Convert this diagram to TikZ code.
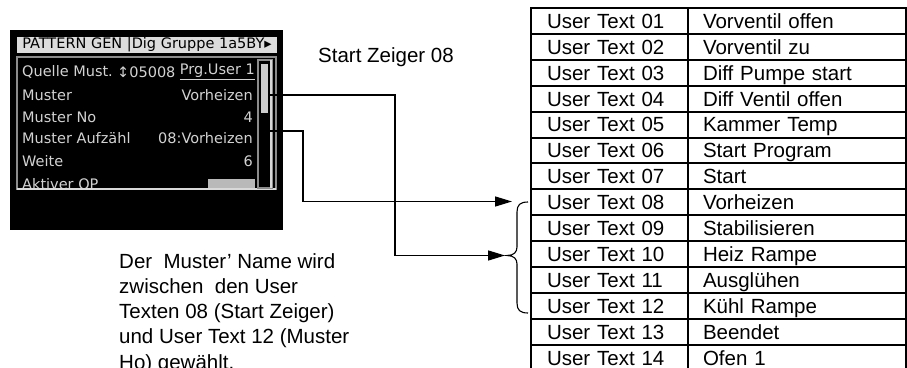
\documentclass[tikz,border=0pt]{standalone}
\usepackage{fontspec}
\setmainfont{Liberation Sans}
\newfontfamily\lcdfont{DejaVu Sans}
\usetikzlibrary{arrows.meta}
\definecolor{lcdtext}{HTML}{D2D2D2}
\definecolor{lcdbar}{HTML}{DCDCDC}
\definecolor{lcdframe}{HTML}{8C8C8C}
\tikzset{
  utkey/.style={draw, line width=2pt, anchor=north west, text width=125pt, inner xsep=16pt,
    inner ysep=3.3pt, text height=17pt, text depth=2.3pt, align=left},
  utval/.style={utkey, text width=188pt, inner xsep=15pt},
  lcd/.style={font=\lcdfont\fontsize{14.5}{16}\selectfont, text=lcdtext, inner sep=0pt},
}
\begin{document}
\begin{tikzpicture}[x=1pt, y=-1pt, >={Triangle[length=17pt,width=10pt]},
  every node/.style={font=\fontsize{20.5}{25.3}\selectfont}]
  \useasboundingbox (0,0) rectangle (907,367);
  \clip (0,0) rectangle (907,367);
  % Display (Bildschirm)
  \fill[black] (10,30) rectangle (283,230);
  \node[lcd, text=black, fill=lcdbar, minimum width=260pt, minimum height=16pt] (title) at (147,45) {PATTERN GEN |Dig Gruppe 1a5BY▸};
  \begin{scope}
    \clip (17,57) rectangle (276,189);
    \node[lcd, anchor=west] (quelle) at (22,72) {Quelle Must.};
    \node[lcd, anchor=west] (qnum) at (117,72) {↕05008};
    \node[lcd, anchor=east] (qprg) at (255,72) {\underline{Prg.User 1}};
    \node[lcd, anchor=west] (muster) at (22,95) {Muster};
    \node[lcd, anchor=east] (mval) at (253,95) {Vorheizen};
    \node[lcd, anchor=west] (mno) at (22,117) {Muster No};
    \node[lcd, anchor=east] (mnoval) at (253,117) {4};
    \node[lcd, anchor=west] (aufz) at (22,138) {Muster Aufzähl};
    \node[lcd, anchor=east] (aufzval) at (253,138) {08:Vorheizen};
    \node[lcd, anchor=west] (weite) at (22,161) {Weite};
    \node[lcd, anchor=east] (weiteval) at (253,161) {6};
    \node[lcd, anchor=west] (aktiv) at (22,184) {Aktiver OP};
    \fill[gray!55] (208,179) rectangle (255,189);
  \end{scope}
  \draw[lcdframe, line width=1.5pt] (17,57) rectangle (276,189);
  \draw[white!85!black, line width=2pt] (17,189) -- (276,189);
  % Scrollbalken
  \draw[lcdframe, line width=1.2pt] (258,60) rectangle (272,188);
  \fill[gray!40] (261,64) rectangle (268,113);
  \draw[gray!30, line width=1.5pt] (271,60) -- (271,188);
  \coordinate (sM) at (268,95);
  \coordinate (sA) at (268,131);
  % Beschriftungen
  \node (zeiger) at (386,57) {Start Zeiger 08};
  \node[anchor=north west, align=left, inner sep=0pt] (note) at (119,253)
    {Der~ Muster’ Name wird\\zwischen~ den User\\Texten 08 (Start Zeiger)\\und User Text 12 (Muster\\Ho) gewählt.};
  % Tabelle User Texte
  \node[utkey] (k01) at (530,7) {User Text 01};     \node[utval] (v01) at (687,7) {Vorventil offen};
  \node[utkey] (k02) at (530,32.9) {User Text 02};  \node[utval] (v02) at (687,32.9) {Vorventil zu};
  \node[utkey] (k03) at (530,58.8) {User Text 03};  \node[utval] (v03) at (687,58.8) {Diff Pumpe start};
  \node[utkey] (k04) at (530,84.7) {User Text 04};  \node[utval] (v04) at (687,84.7) {Diff Ventil offen};
  \node[utkey] (k05) at (530,110.6) {User Text 05}; \node[utval] (v05) at (687,110.6) {Kammer Temp};
  \node[utkey] (k06) at (530,136.5) {User Text 06}; \node[utval] (v06) at (687,136.5) {Start Program};
  \node[utkey] (k07) at (530,162.4) {User Text 07}; \node[utval] (v07) at (687,162.4) {Start};
  \node[utkey] (k08) at (530,188.3) {User Text 08}; \node[utval] (v08) at (687,188.3) {Vorheizen};
  \node[utkey] (k09) at (530,214.2) {User Text 09}; \node[utval] (v09) at (687,214.2) {Stabilisieren};
  \node[utkey] (k10) at (530,240.1) {User Text 10}; \node[utval] (v10) at (687,240.1) {Heiz Rampe};
  \node[utkey] (k11) at (530,266) {User Text 11};   \node[utval] (v11) at (687,266) {Ausglühen};
  \node[utkey] (k12) at (530,291.9) {User Text 12}; \node[utval] (v12) at (687,291.9) {Kühl Rampe};
  \node[utkey] (k13) at (530,317.8) {User Text 13}; \node[utval] (v13) at (687,317.8) {Beendet};
  \node[utkey] (k14) at (530,343.7) {User Text 14}; \node[utval] (v14) at (687,343.7) {Ofen 1};
  % Klammer 08 bis 12
  \draw[line width=1.1pt] (528,202) .. controls (520,202) and (517,205) .. (517,212) -- (517,247)
    .. controls (517,252) and (514,255.5) .. (507,255.5) .. controls (514,255.5) and (517,259) .. (517,264)
    -- (517,303) .. controls (517,310) and (520,313) .. (528,313);
  \coordinate (t08) at (512,201.5);
  \coordinate (tmid) at (505,255.5);
  % Pfeile
  \draw[->, line width=1.4pt] (sM) -- ++(127,0) |- (tmid);
  \draw[->, line width=1.4pt] (sA) -- ++(35,0) |- (t08);
\end{tikzpicture}
\end{document}
